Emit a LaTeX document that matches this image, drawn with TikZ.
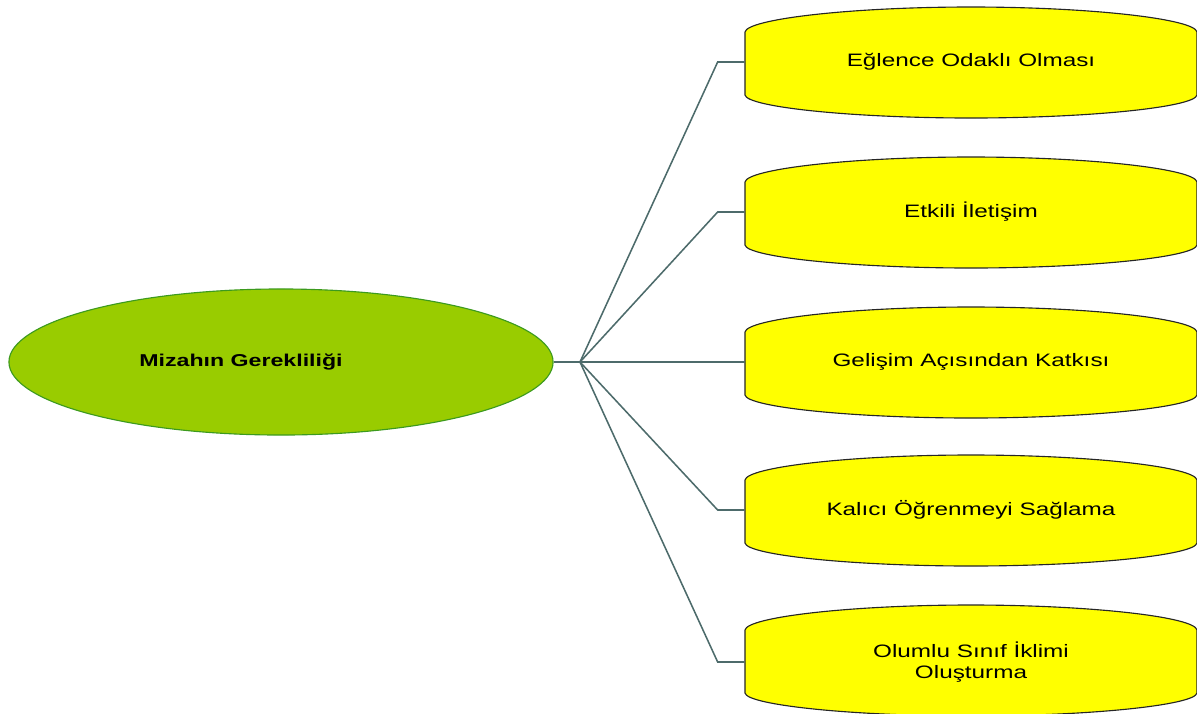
\documentclass[tikz,border=0pt]{standalone}
\usepackage{fontspec}
\setmainfont{Liberation Sans}[FakeStretch=1.35]
\usepackage{tikz}
\usetikzlibrary{shapes.geometric,calc}
\definecolor{mizahyesil}{HTML}{99CC00}
\definecolor{mizahkenar}{HTML}{3C9A1E}
\definecolor{dalgri}{HTML}{4D6B6B}
\definecolor{kutusari}{HTML}{FFFF00}

\begin{document}
\begin{tikzpicture}[x=0.025cm,y=-0.025cm,
  kok/.style={ellipse,draw=mizahkenar,fill=mizahyesil,line width=0.8pt,minimum width=13.6cm,minimum height=3.65cm,font=\fontsize{12.2}{14.5}\selectfont\bfseries},
  yaprak/.style={minimum width=11.3cm,minimum height=1.5cm,align=center,font=\fontsize{12.8}{14.5}\selectfont},
  kutu/.style={draw=black!85,fill=kutusari,line width=0.8pt},
  dal/.style={draw=dalgri,line width=1.1pt}]
\useasboundingbox (0,0) rectangle (1197,713);

% sari kutular
\foreach \y in {62,212,362,510,660}
  \draw[kutu,shift={(971,\y)}] (-226,33) -- (-226,-30)
    .. controls (-224,-43) and (-120,-55) .. (0,-55)
    .. controls (120,-55) and (224,-43) .. (226,-30) -- (226,33)
    .. controls (224,45) and (120,56) .. (0,56)
    .. controls (-120,56) and (-224,45) .. cycle;

\node[kok] (mizah) at (281,362) {\hspace*{-2cm}Mizahın Gerekliliği};

\node[yaprak] (eglence) at (971,62) {Eğlence Odaklı Olması};
\node[yaprak] (iletisim) at (971,212) {Etkili İletişim};
\node[yaprak] (gelisim) at (971,362) {Gelişim Açısından Katkısı};
\node[yaprak] (kalici) at (971,510) {Kalıcı Öğrenmeyi Sağlama};
\node[yaprak] (iklim) at (971,662) {Olumlu Sınıf İklimi\\Oluşturma};

\coordinate (dal0) at (580,362);
\draw[dal] (mizah.east) -- (dal0);
\foreach \n in {eglence,iletisim,gelisim,kalici,iklim}
  \draw[dal] (dal0) -- ($(\n.west)+(-27,0)$) -- (\n.west);
\end{tikzpicture}
\end{document}
